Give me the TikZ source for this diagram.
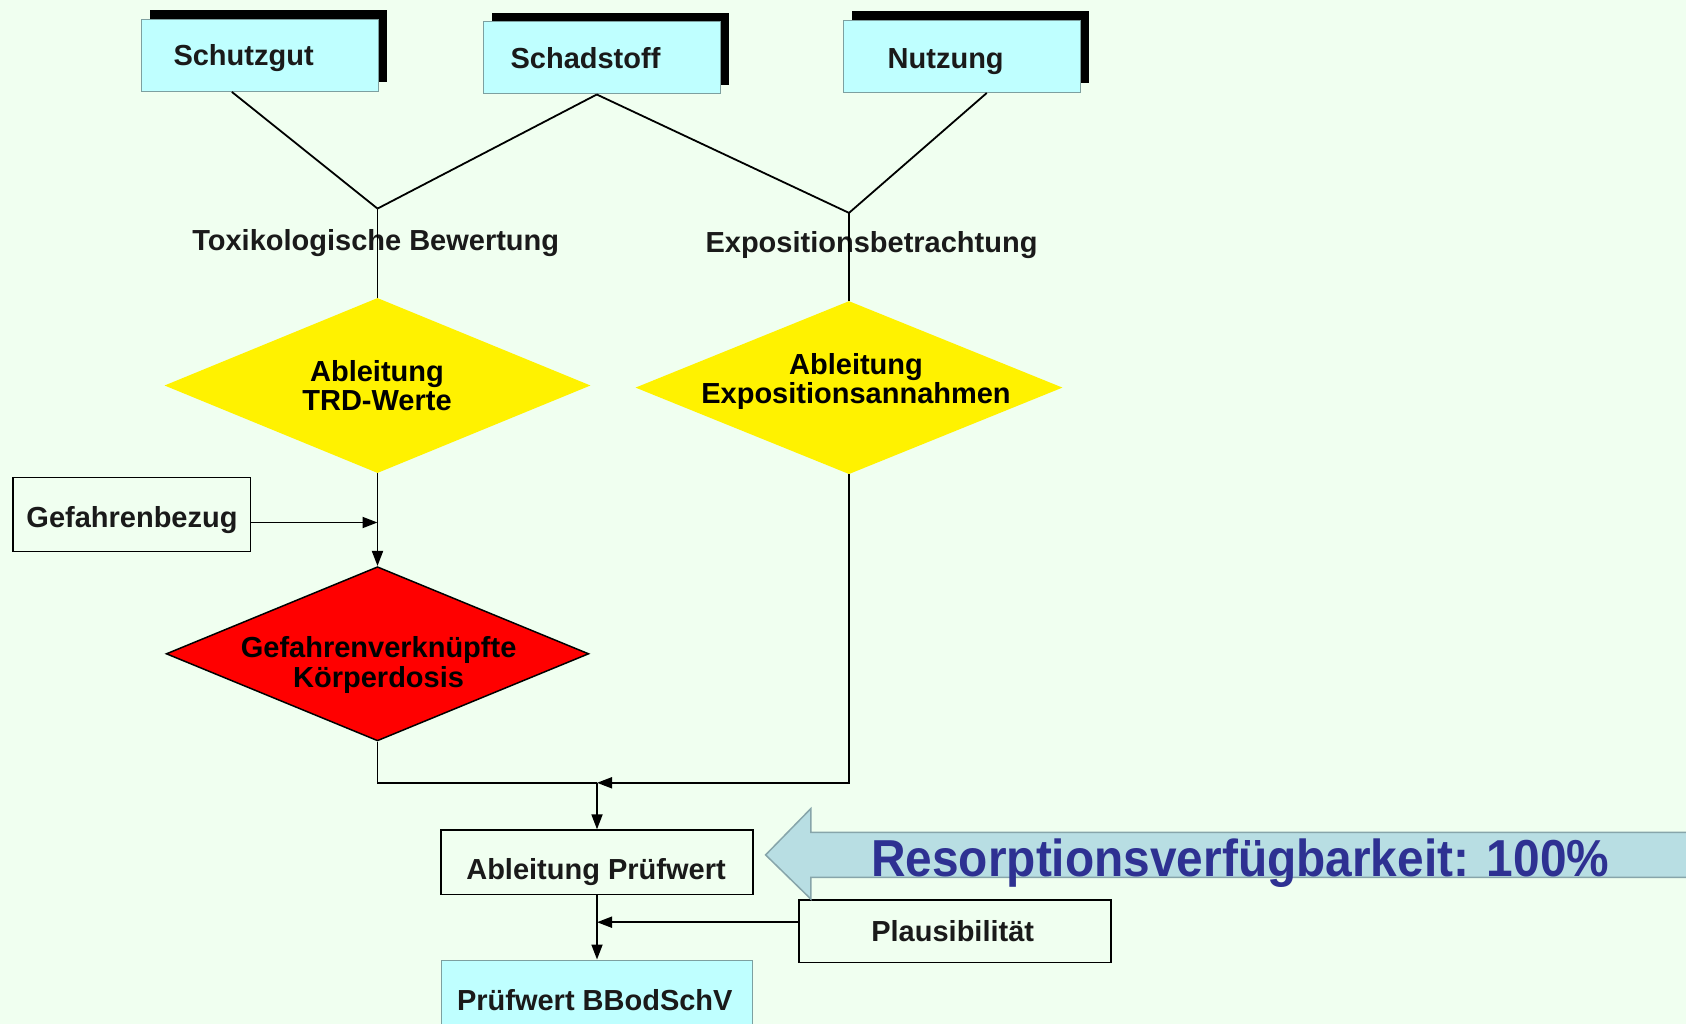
\documentclass[tikz,border=0pt]{standalone}
\usepackage{fontspec}
\setmainfont{Liberation Sans}
\usetikzlibrary{shapes.geometric,arrows.meta,shadows,calc}
\definecolor{bg}{RGB}{240,255,240}
\definecolor{cyanbox}{RGB}{191,255,255}
\definecolor{cyanedge}{RGB}{125,160,160}
\definecolor{arrfill}{RGB}{184,222,227}
\definecolor{arredge}{RGB}{135,165,170}
\definecolor{navy}{RGB}{46,49,146}
\definecolor{txt}{RGB}{26,26,26}
\begin{document}
\begin{tikzpicture}[x=1pt,y=-1pt,
  lbl/.style={font=\fontsize{29}{29}\selectfont\bfseries, text=txt, inner sep=0pt, anchor=base},
  dlbl/.style={lbl, text=black},
  topbox/.style={draw=cyanedge, line width=1pt, fill=cyanbox, minimum width=237.5pt, minimum height=72pt, inner sep=0pt,
    general shadow={fill=black, shadow xshift=8.6pt, shadow yshift=9pt}},
  plainbox/.style={draw=black, line width=1.5pt, fill=none, inner sep=0pt},
  conn/.style={draw=black, line width=1.8pt},
  arr/.style={conn, -{Triangle[length=15pt,width=11pt]}},
  dia/.style={diamond, inner sep=0pt, shape aspect=2.4}
]
\useasboundingbox (0,0) rectangle (1686,1024);
\fill[bg] (0,0) rectangle (1686,1024);
\clip (0,0) rectangle (1686,1024);

% top boxes
\node[topbox] (schutz) at (259.8,55.4) {};
\node[topbox] (schad) at (601.8,58.0) {};
\node[topbox] (nutz) at (962.0,56.5) {};
\node[lbl] (schutzT) at (243.6,66) {Schutzgut};
\node[lbl] (schadT) at (585.5,69) {Schadstoff};
\node[lbl] (nutzT) at (945.7,69) {Nutzung};

% labels
\node[lbl] (tox) at (375.7,251) {Toxikologische Bewertung};
\node[lbl] (expo) at (871.5,253) {Expositionsbetrachtung};

% diamonds
\node[dia, fill=yellow, minimum width=426pt, minimum height=175pt] (d1) at (377.5,385.5) {};
\node[dia, fill=yellow, minimum width=427pt, minimum height=173pt] (d2) at (849,387.6) {};
\node[dia, fill=red, draw=black, line width=1.5pt, minimum width=422.6pt, minimum height=174.2pt] (red) at (377.5,653.8) {};
\node[dlbl] (d1a) at (377,381) {Ableitung};
\node[dlbl] (d1b) at (377,410) {TRD-Werte};
\node[dlbl] (d2a) at (856,374.5) {Ableitung};
\node[dlbl] (d2b) at (856,403.6) {Expositionsannahmen};
\node[dlbl] (r1) at (378.6,657) {Gefahrenverknüpfte};
\node[dlbl] (r2) at (378.6,687) {Körperdosis};

% boxes
\node[plainbox, minimum width=237.6pt, minimum height=74.2pt] (gef) at (131.7,514.5) {};
\node[lbl] (gefT) at (132,527) {Gefahrenbezug};
\node[plainbox, minimum width=312pt, minimum height=64.5pt] (apw) at (597,862.35) {};
\node[lbl] (apwT) at (596,879) {Ableitung Prüfwert};
\node[plainbox, minimum width=311.8pt, minimum height=62.4pt] (pl) at (955,931.2) {};
\node[lbl] (plT) at (952.7,941) {Plausibilität};
\node[draw=cyanedge, line width=1pt, fill=cyanbox, inner sep=0pt, minimum width=311pt, minimum height=70pt] (pbs) at (597,995) {};
\node[lbl] (pbsT) at (594.8,1010) {Prüfwert BBodSchV};

% connectors
\coordinate (j1) at (377.5,208.6);
\coordinate (j2) at (849,212.9);
\draw[conn] ([xshift=91.3pt]schutz.south west) -- (j1);
\draw[conn] ([xshift=-5pt]schad.south) -- (j1);
\draw[conn] ([xshift=-5pt]schad.south) -- (j2);
\draw[conn] ([xshift=144pt]nutz.south west) -- (j2);
\draw[conn] (j1) -- (d1.north);
\draw[conn] (j2) -- (d2.north);
\draw[arr] ([yshift=-8pt]gef.east) -- ([yshift=-8pt]gef.east -| d1.south);
\draw[arr] (d1.south) -- (red.north);
\coordinate (m) at (597,782.8);
\draw[conn] (red.south) |- (m);
\draw[arr] (d2.south) |- (m);
\draw[arr] (m) -- (apw.north);
\draw[arr] (apw.south) -- (pbs.north);
\draw[arr] ([yshift=9pt]pl.west) -- ([yshift=9pt]pl.west -| apw.south);

% big arrow
\path[draw=arredge, fill=arrfill, line width=1.5pt]
  (765.6,854.9) -- (810.8,808.6) -- (810.8,832.3) -- (1700,832.3) -- (1700,877.4)
  -- (810.8,877.4) -- (810.8,899) -- cycle;
\node[font=\fontsize{52}{52}\selectfont\bfseries, text=navy, anchor=base west, xscale=0.92, inner sep=0pt] (res) at (871,876.4) {Resorptionsverfügbarkeit: 100\%};
\end{tikzpicture}
\end{document}
